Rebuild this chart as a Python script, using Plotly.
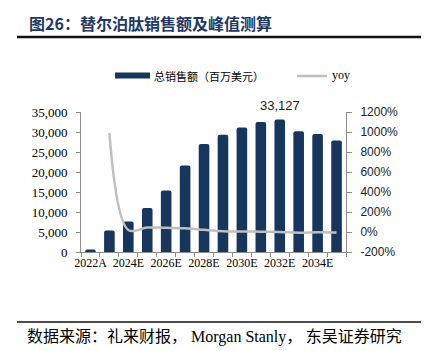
import plotly.graph_objects as go

W, H = 425, 351
L, R, T, B = 81, 79, 112, 99   # plot area: x 81..346, y 112..252

categories = ["2022A", "2023A", "2024E", "2025E", "2026E", "2027E", "2028E",
              "2029E", "2030E", "2031E", "2032E", "2033E", "2034E", "2035E"]
sales = [600, 5400, 7600, 11000, 15400, 21600, 27000, 29300, 31100, 32500,
         33127, 30200, 29500, 27900]
yoy = [None, 990, 20, 45, 42, 38, 22, 8, 5, 3, 1, -8, -3, -6]

left_ticks = [0, 5000, 10000, 15000, 20000, 25000, 30000, 35000]
right_ticks = [-200, 0, 200, 400, 600, 800, 1000, 1200]

NAVY = "#17365D"
GREY_LINE = "#BFBFBF"
AXIS = "#8C8C8C"
SERIF = "Liberation Serif, Times New Roman, serif"
SANS = "Liberation Sans, Arial, sans-serif"
CJK = "Noto Sans CJK SC, sans-serif"

pw, ph = W - L - R, H - T - B


def px(x):
    return (x - L) / pw


def py(y):
    return (H - B - y) / ph


xs = list(range(len(categories)))

fig = go.Figure()
fig.add_trace(go.Bar(
    x=xs, y=sales, marker=dict(color=NAVY, cornerradius=2, line=dict(width=0)),
    width=0.56, name="总销售额（百万美元）", yaxis="y"))
fig.add_trace(go.Scatter(
    x=xs, y=yoy, mode="lines", line=dict(color=GREY_LINE, width=2.5, shape="spline", smoothing=1.0),
    name="yoy", yaxis="y2", connectgaps=False))

fig.update_layout(
    width=W, height=H, margin=dict(l=L, r=R, t=T, b=B, pad=0),
    paper_bgcolor="white", plot_bgcolor="white", showlegend=False,
    xaxis=dict(range=[-0.5, len(categories) - 0.5], tickmode="array",
               tickvals=xs[::2], ticktext=categories[::2], ticks="",
               tickfont=dict(family=SERIF, size=12, color="#000"),
               showline=True, linecolor=AXIS, linewidth=1, showgrid=False, zeroline=False,
               minor=dict(tickmode="array", tickvals=[i - 0.5 for i in range(len(categories) + 1)],
                          ticks="outside", ticklen=4, tickcolor=AXIS)),
    yaxis=dict(range=[0, 35000], tickmode="array", tickvals=left_ticks,
               ticktext=[f"{v:,}" for v in left_ticks], ticks="outside", ticklen=4,
               tickcolor=AXIS, showline=True, linecolor=AXIS, linewidth=1,
               showgrid=False, zeroline=False, ticklabelstandoff=6,
               tickfont=dict(family=SERIF, size=13, color="#000")),
    yaxis2=dict(range=[-200, 1200], overlaying="y", side="right", tickmode="array",
                tickvals=right_ticks, ticktext=[f"{v}%" for v in right_ticks],
                ticks="outside", ticklen=5, tickcolor=AXIS, showline=True, linecolor=AXIS,
                linewidth=1, showgrid=False, zeroline=False, ticklabelstandoff=6,
                tickfont=dict(family=SANS, size=12, color="#222")),
)

# peak label
peak_i = sales.index(max(sales))
fig.add_annotation(x=xs[peak_i], y=sales[peak_i], xref="x", yref="y", text=f"{sales[peak_i]:,}",
                   showarrow=False, yanchor="bottom", yshift=4,
                   font=dict(family=SANS, size=13, color="#222"))

shapes = []
# title underline
shapes.append(dict(type="line", xref="paper", yref="paper", x0=px(17), x1=px(421), y0=py(37), y1=py(37),
                   line=dict(color="#111", width=2.5)))
# footer line
shapes.append(dict(type="line", xref="paper", yref="paper", x0=px(17), x1=px(421), y0=py(322), y1=py(322),
                   line=dict(color="#111", width=1.5)))
# legend swatches
shapes.append(dict(type="rect", xref="paper", yref="paper", x0=px(115), x1=px(150), y0=py(72.5), y1=py(78.5),
                   fillcolor=NAVY, line=dict(width=0)))
shapes.append(dict(type="line", xref="paper", yref="paper", x0=px(297), x1=px(327), y0=py(76), y1=py(76),
                   line=dict(color=GREY_LINE, width=2.5)))
fig.update_layout(shapes=shapes)

footer = ("数据来源：礼来财报，<span style=\"font-family:Liberation Serif\"> Morgan Stanly</span>，"
          " 东吴证券研究")
anns = [
    dict(x=px(27), y=py(23), text="<b>图26：替尔泊肽销售额及峰值测算</b>", xanchor="left", yanchor="middle",
         font=dict(family=CJK, size=16, color="#1F3864")),
    dict(x=px(152), y=py(76), text="总销售额（百万美元）", xanchor="left", yanchor="middle",
         font=dict(family=CJK, size=11, color="#000")),
    dict(x=px(330), y=py(75), text="yoy", xanchor="left", yanchor="middle",
         font=dict(family=SERIF, size=12, color="#000")),
    dict(x=px(25), y=py(335), text=footer, xanchor="left",
         yanchor="middle", font=dict(family=CJK, size=16, color="#000")),
    dict(x=px(25), y=py(358), text="所", xanchor="left", yanchor="middle",
         font=dict(family=CJK, size=16, color="#000")),
]
for a in anns:
    fig.add_annotation(xref="paper", yref="paper", showarrow=False, **a)

fig.write_html("out.html")
